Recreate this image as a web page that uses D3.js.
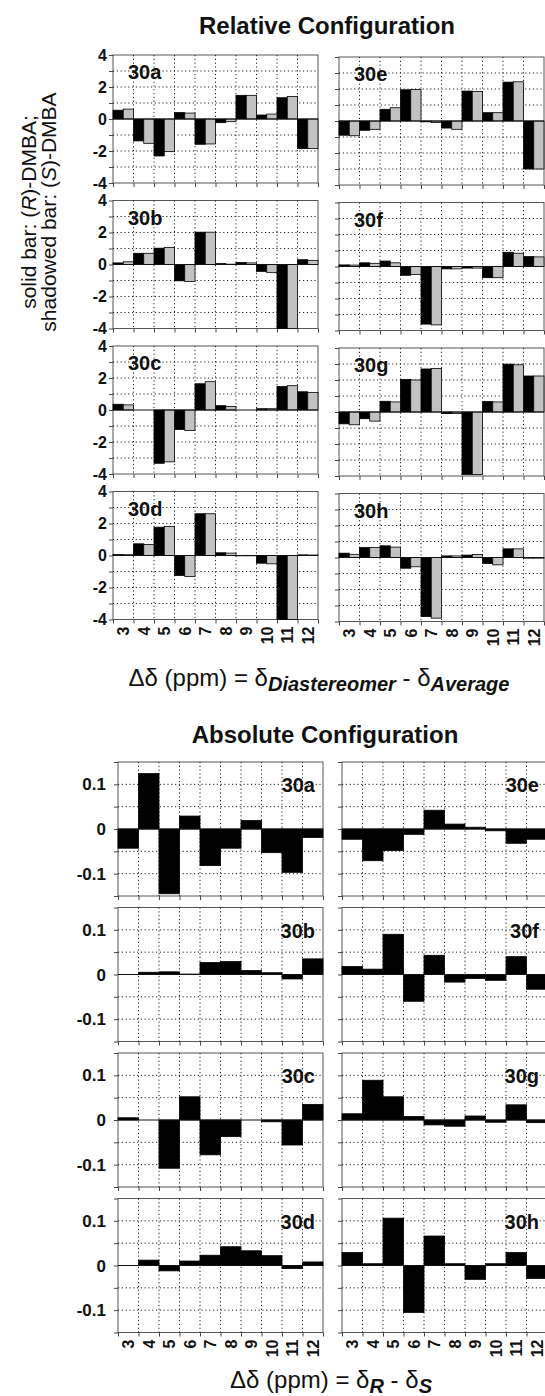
<!DOCTYPE html>
<html lang="en">
<head>
<meta charset="UTF-8">
<title>Relative and Absolute Configuration</title>
<script src="https://d3js.org/d3.v7.min.js"></script>
<style>
    body { margin: 0; background: #fff; }
    svg text { font-family: "Liberation Sans", Arial, Helvetica, sans-serif; fill: #111; }
    .frame { fill: #fff; stroke: #555; stroke-width: 1; }
    .grid { stroke: #222; stroke-width: 1; stroke-dasharray: 1.2,2.6; }
    .zero { stroke: #111; stroke-width: 1; }
    .tick line { stroke: #444; }
    .tick-lbl { font-weight: bold; }
    .panel-lbl { font-weight: bold; font-size: 20px; }
    .title { font-weight: bold; font-size: 24px; }
</style>
</head>
<body>
<svg id="chart" width="545" height="1396"></svg>
<script>
// categories (carbon positions)
const categories = ["3", "4", "5", "6", "7", "8", "9", "10", "11", "12"];

// relative configuration: R = solid bar, S = shadowed bar
const r30a = [0.55, -1.37, -2.31, 0.40, -1.58, -0.23, 1.48, 0.25, 1.33, -1.85];
const s30a = [0.62, -1.52, -2.04, 0.37, -1.56, -0.17, 1.48, 0.31, 1.41, -1.85];
const r30b = [0.10, 0.70, 1.02, -1.02, 2.02, 0.06, 0.13, -0.43, -4.0, 0.30];
const s30b = [0.17, 0.70, 1.06, -1.06, 2.02, 0.02, 0.10, -0.51, -4.0, 0.26];
const r30c = [0.36, 0, -3.33, -1.22, 1.64, 0.27, 0, 0.08, 1.47, 1.14];
const s30c = [0.32, 0, -3.24, -1.28, 1.77, 0.22, 0, 0.08, 1.52, 1.09];
const r30d = [0.06, 0.73, 1.77, -1.25, 2.61, 0.17, -0.02, -0.48, -4.0, 0.04];
const s30d = [0.05, 0.69, 1.81, -1.31, 2.61, 0.15, -0.02, -0.52, -4.0, 0.03];
const r30e = [-0.89, -0.58, 0.73, 1.95, -0.05, -0.44, 1.87, 0.52, 2.43, -3.0];
const s30e = [-0.92, -0.52, 0.83, 1.97, -0.10, -0.52, 1.85, 0.52, 2.45, -3.0];
const r30f = [0.10, 0.23, 0.34, -0.55, -3.60, -0.15, -0.10, -0.70, 0.89, 0.62];
const s30f = [0.09, 0.20, 0.23, -0.50, -3.65, -0.15, -0.10, -0.70, 0.83, 0.60];
const r30g = [-0.74, -0.42, 0.67, 2.04, 2.69, -0.10, -3.90, 0.65, 2.99, 2.25];
const s30g = [-0.80, -0.57, 0.63, 2.00, 2.72, -0.10, -3.90, 0.63, 2.95, 2.25];
const r30h = [0.27, 0.62, 0.73, -0.67, -3.69, 0.10, 0.15, -0.37, 0.54, -0.04];
const s30h = [0.20, 0.62, 0.65, -0.58, -3.79, 0.10, 0.19, -0.46, 0.54, -0.04];

// absolute configuration: delta R - delta S
const a30a = [-0.043, 0.124, -0.145, 0.029, -0.082, -0.043, 0.019, -0.053, -0.097, -0.019];
const a30b = [0, 0.005, 0.006, 0.001, 0.027, 0.029, 0.009, 0.004, -0.010, 0.035];
const a30c = [0.005, 0, -0.108, 0.052, -0.078, -0.037, 0, -0.004, -0.056, 0.035];
const a30d = [0, 0.012, -0.012, 0.010, 0.023, 0.042, 0.033, 0.022, -0.007, 0.008];
const a30e = [-0.023, -0.071, -0.048, -0.012, 0.042, 0.011, 0.004, -0.004, -0.032, -0.023];
const a30f = [0.018, 0.012, 0.090, -0.060, 0.043, -0.017, -0.009, -0.013, 0.040, -0.033];
const a30g = [0.014, 0.089, 0.052, 0.008, -0.011, -0.014, 0.009, -0.005, 0.034, -0.006];
const a30h = [0.029, 0.004, 0.106, -0.105, 0.066, 0.004, -0.031, 0.004, 0.029, -0.029];

const relTickLabels = [4, 2, 0, -2, -4];
const absTickLabels = [0.1, 0, -0.1];

// panel order: column 0 = a..d, column 1 = e..h
const relPanels = [
    ["30a", r30a, s30a], ["30b", r30b, s30b], ["30c", r30c, s30c], ["30d", r30d, s30d],
    ["30e", r30e, s30e], ["30f", r30f, s30f], ["30g", r30g, s30g], ["30h", r30h, s30h]
];
const absPanels = [
    ["30a", a30a], ["30b", a30b], ["30c", a30c], ["30d", a30d],
    ["30e", a30e], ["30f", a30f], ["30g", a30g], ["30h", a30h]
];

const svg = d3.select("#chart");
const W = 205;
const relH = 128, absH = 134;
const rowStep = 145.5;

const x = d3.scaleBand().domain(categories).range([0, W]).padding(0);
const xEdge = d3.scaleLinear().domain([0, categories.length]).range([0, W]);

function frameAndGrid(g, y, h, gridVals, tickVals) {
    g.append("rect").attr("class", "frame").attr("width", W).attr("height", h);

    g.selectAll(".hgrid").data(gridVals).enter().append("line")
        .attr("class", "grid")
        .attr("x1", 0).attr("x2", W)
        .attr("y1", d => y(d)).attr("y2", d => y(d));

    g.selectAll(".vgrid").data(d3.range(1, categories.length)).enter().append("line")
        .attr("class", "grid")
        .attr("x1", d => xEdge(d)).attr("x2", d => xEdge(d))
        .attr("y1", 0).attr("y2", h);

    // tick marks
    g.append("g").attr("class", "tick")
        .call(d3.axisLeft(y).tickValues(tickVals).tickSize(4).tickFormat(""))
        .select(".domain").remove();
    g.append("g").attr("class", "tick")
        .attr("transform", `translate(0,${h})`)
        .call(d3.axisBottom(xEdge).ticks(categories.length).tickSize(4).tickFormat(""))
        .select(".domain").remove();
}

function xLabels(g, h) {
    g.selectAll(".xl").data(categories).enter().append("text")
        .attr("class", "tick-lbl")
        .attr("font-size", 16)
        .attr("text-anchor", "end")
        .attr("transform", d => `translate(${x(d) + x.bandwidth() / 2 + 6},${h + 7}) rotate(-90)`)
        .text(d => d);
}

// ---------------- Relative configuration ----------------
svg.append("text").attr("class", "title")
    .attr("x", 327).attr("y", 34).attr("text-anchor", "middle")
    .text("Relative Configuration");

const yRel = d3.scaleLinear().domain([-4, 4]).range([relH, 0]);

relPanels.forEach((p, i) => {
    const col = Math.floor(i / 4), row = i % 4;
    const g = svg.append("g")
        .attr("transform", `translate(${col ? 339 : 113},${55 + row * rowStep + (col ? 2 : 0)})`);

    frameAndGrid(g, yRel, relH, [-3, -2, -1, 1, 2, 3], d3.range(-4, 5));

    const rVals = p[1], sVals = p[2];
    const half = x.bandwidth() / 2;
    g.selectAll(".rbar").data(rVals).enter().append("rect")
        .attr("x", (d, j) => x(categories[j]))
        .attr("width", half)
        .attr("y", d => yRel(Math.max(0, d)))
        .attr("height", d => Math.abs(yRel(d) - yRel(0)))
        .attr("fill", "#000").attr("stroke", "#000").attr("stroke-width", 0.8);
    g.selectAll(".sbar").data(sVals).enter().append("rect")
        .attr("x", (d, j) => x(categories[j]) + half)
        .attr("width", half)
        .attr("y", d => yRel(Math.max(0, d)))
        .attr("height", d => Math.abs(yRel(d) - yRel(0)))
        .attr("fill", "#c2c2c2").attr("stroke", "#000").attr("stroke-width", 0.8);

    g.append("line").attr("class", "zero")
        .attr("x1", 0).attr("x2", W).attr("y1", yRel(0)).attr("y2", yRel(0));

    g.append("text").attr("class", "panel-lbl")
        .attr("x", 15).attr("y", 24).text(p[0]);

    if (col === 0) {
        g.selectAll(".yl").data(relTickLabels).enter().append("text")
            .attr("class", "tick-lbl").attr("font-size", 16)
            .attr("text-anchor", "end")
            .attr("x", -6).attr("y", d => yRel(d)).attr("dy", "0.36em")
            .text(d => d);
    }
    if (row === 3) xLabels(g, relH);
});

// rotated legend text
const leg = svg.append("text")
    .attr("transform", "translate(36,212) rotate(-90)")
    .attr("text-anchor", "middle")
    .attr("font-size", 21);
leg.append("tspan").text("solid bar: (");
leg.append("tspan").attr("font-style", "italic").text("R");
leg.append("tspan").text(")-DMBA;");
const leg2 = svg.append("text")
    .attr("transform", "translate(36,212) rotate(-90)")
    .attr("text-anchor", "middle")
    .attr("font-size", 21)
    .attr("y", 20);
leg2.append("tspan").text("shadowed bar: (");
leg2.append("tspan").attr("font-style", "italic").text("S");
leg2.append("tspan").text(")-DMBA");

// x title (relative)
const t1 = svg.append("text").attr("x", 319).attr("y", 686)
    .attr("text-anchor", "middle").attr("font-size", 24);
t1.append("tspan").text("\u0394\u03b4 (ppm) = \u03b4");
t1.append("tspan").attr("font-size", 20).attr("font-weight", "bold").attr("font-style", "italic")
    .attr("dy", 5).text("Diastereomer");
t1.append("tspan").attr("dy", -5).text(" - \u03b4");
t1.append("tspan").attr("font-size", 20).attr("font-weight", "bold").attr("font-style", "italic")
    .attr("dy", 5).text("Average");

// ---------------- Absolute configuration ----------------
svg.append("text").attr("class", "title")
    .attr("x", 325).attr("y", 743).attr("text-anchor", "middle")
    .text("Absolute Configuration");

const yAbs = d3.scaleLinear().domain([-0.15, 0.15]).range([absH, 0]);

absPanels.forEach((p, i) => {
    const col = Math.floor(i / 4), row = i % 4;
    const g = svg.append("g")
        .attr("transform", `translate(${col ? 342 : 118},${762 + row * rowStep})`);

    frameAndGrid(g, yAbs, absH, [-0.1, -0.05, 0.05, 0.1], [-0.15, -0.1, -0.05, 0, 0.05, 0.1, 0.15]);

    g.selectAll(".abar").data(p[1]).enter().append("rect")
        .attr("x", (d, j) => x(categories[j]))
        .attr("width", x.bandwidth())
        .attr("y", d => yAbs(Math.max(0, d)))
        .attr("height", d => Math.abs(yAbs(d) - yAbs(0)))
        .attr("fill", "#000").attr("stroke", "#000").attr("stroke-width", 0.8);

    g.append("line").attr("class", "zero")
        .attr("x1", 0).attr("x2", W).attr("y1", yAbs(0)).attr("y2", yAbs(0));

    g.append("text").attr("class", "panel-lbl")
        .attr("x", W - 8).attr("y", yAbs(0.1) + 8).attr("text-anchor", "end")
        .text(p[0]);

    if (col === 0) {
        g.selectAll(".yl").data(absTickLabels).enter().append("text")
            .attr("class", "tick-lbl").attr("font-size", 17)
            .attr("text-anchor", "end")
            .attr("x", -12).attr("y", d => yAbs(d)).attr("dy", "0.36em")
            .text(d => d);
    }
    if (row === 3) xLabels(g, absH);
});

// x title (absolute)
const t2 = svg.append("text").attr("x", 331).attr("y", 1388)
    .attr("text-anchor", "middle").attr("font-size", 24);
t2.append("tspan").text("\u0394\u03b4 (ppm) = \u03b4");
t2.append("tspan").attr("font-size", 20).attr("font-weight", "bold").attr("font-style", "italic")
    .attr("dy", 5).text("R");
t2.append("tspan").attr("dy", -5).text(" - \u03b4");
t2.append("tspan").attr("font-size", 20).attr("font-weight", "bold").attr("font-style", "italic")
    .attr("dy", 5).text("S");
</script>
</body>
</html>
